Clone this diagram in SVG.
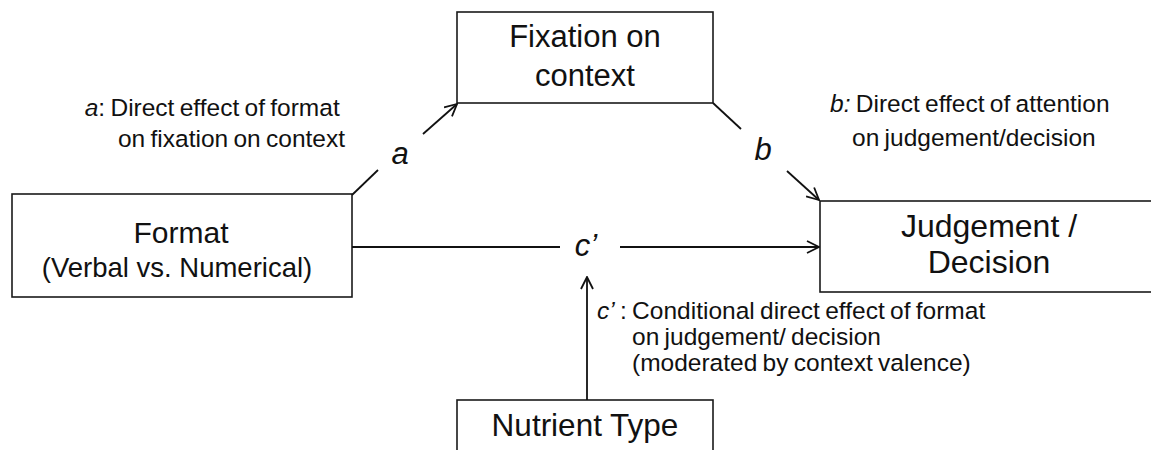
<svg xmlns="http://www.w3.org/2000/svg" width="1151" height="450" viewBox="0 0 1151 450">
  <style>
    .box { fill: #ffffff; stroke: #1a1a1a; stroke-width: 1.6; }
    .node { font-family: "Liberation Sans", Arial, sans-serif; fill: #111111; text-anchor: middle; }
    .path-label { font-family: "Liberation Sans", Arial, sans-serif; font-style: italic; fill: #111111; text-anchor: middle; font-size: 31px; }
    .note { font-family: "Liberation Sans", Arial, sans-serif; fill: #111111; font-size: 24.5px; word-spacing: -1.5px; }
    .note .it { font-style: italic; }
    .edge { stroke: #111111; stroke-width: 1.8; fill: none; }
  </style>
  <defs>
    <marker id="arrow" viewBox="0 0 14 14" refX="13" refY="7" markerWidth="14" markerHeight="14" markerUnits="userSpaceOnUse" orient="auto">
      <path d="M1,1 L13,7 L1,13" fill="none" stroke="#111111" stroke-width="1.8"/>
    </marker>
  </defs>

  <g id="format">
    <rect class="box" x="12" y="194" width="340" height="103"/>
    <text class="node" x="181" y="243" font-size="30">Format</text>
    <text class="node" x="177" y="277" font-size="27.5">(Verbal vs. Numerical)</text>
  </g>

  <g id="fixation">
    <rect class="box" x="457" y="12" width="256" height="91"/>
    <text class="node" x="585" y="47" font-size="31">Fixation on</text>
    <text class="node" x="585" y="86" font-size="31">context</text>
  </g>

  <g id="judgement">
    <rect class="box" x="820" y="201" width="340" height="91"/>
    <text class="node" x="989" y="237" font-size="32">Judgement /</text>
    <text class="node" x="989" y="273" font-size="32">Decision</text>
  </g>

  <g id="nutrient">
    <rect class="box" x="457" y="400" width="256" height="60"/>
    <text class="node" x="585" y="436" font-size="31.5">Nutrient Type</text>
  </g>

  <g id="connectors">
    <!-- a path: Format -> Fixation, broken around its label -->
    <line class="edge" x1="352" y1="195" x2="378" y2="170"/>
    <line class="edge" x1="423" y1="134" x2="457" y2="104" marker-end="url(#arrow)"/>
    <!-- b path: Fixation -> Judgement -->
    <line class="edge" x1="713" y1="103" x2="741" y2="129"/>
    <line class="edge" x1="787" y1="171" x2="819" y2="200" marker-end="url(#arrow)"/>
    <!-- c' path: Format -> Judgement -->
    <line class="edge" x1="352" y1="247" x2="560" y2="247"/>
    <line class="edge" x1="620" y1="247" x2="819" y2="247" marker-end="url(#arrow)"/>
    <!-- moderator: Nutrient Type -> c' -->
    <line class="edge" x1="587" y1="400" x2="587" y2="277" marker-end="url(#arrow)"/>
  </g>

  <g id="path-labels">
    <text class="path-label" x="400" y="164" font-size="32">a</text>
    <text class="path-label" x="763" y="160">b</text>
    <text class="path-label" x="586" y="256" font-size="29">c’</text>
  </g>

  <g id="notes">
    <text class="note" text-anchor="end">
      <tspan x="345" y="116"><tspan class="it">a</tspan>: Direct effect of format</tspan>
      <tspan x="345" y="147">on fixation on context</tspan>
    </text>
    <text class="note">
      <tspan x="830" y="112"><tspan class="it">b:</tspan> Direct effect of attention</tspan>
      <tspan x="852" y="146">on judgement/decision</tspan>
    </text>
    <text class="note">
      <tspan x="597" y="319"><tspan class="it">c’</tspan> : Conditional direct effect of format</tspan>
      <tspan x="632" y="345">on judgement/ decision</tspan>
      <tspan x="632" y="371">(moderated by context valence)</tspan>
    </text>
  </g>
</svg>
